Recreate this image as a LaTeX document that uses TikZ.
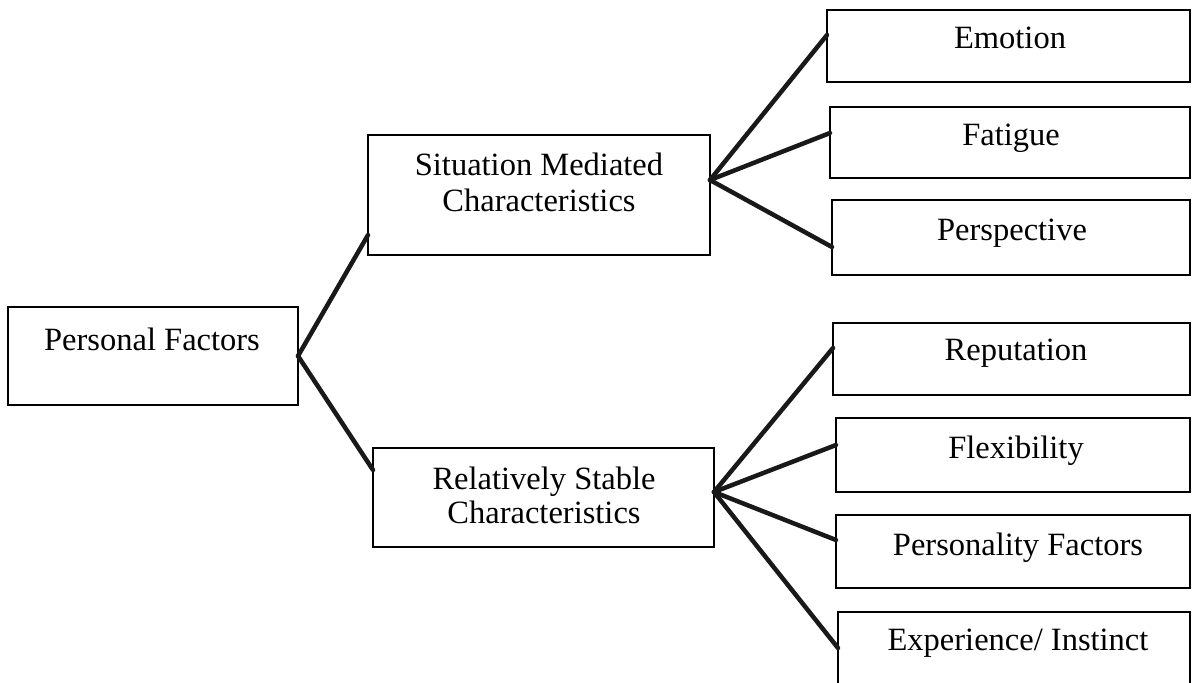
\documentclass[tikz,border=0pt]{standalone}
\usepackage{fontspec}
\setmainfont{Liberation Serif}
\usetikzlibrary{calc}
\begin{document}
\begin{tikzpicture}[x=1pt,y=-1pt,
  box/.style={draw=black, line width=1.8pt, inner sep=0pt, outer sep=0pt},
  lbl/.style={inner sep=0pt, anchor=base, font=\fontsize{32.5}{37}\selectfont},
  link/.style={draw=black!90, line width=4.5pt, line cap=round}]
\useasboundingbox (0,0) rectangle (1192,683);
\clip (0,0) rectangle (1192,683);

% root
\node[box, minimum width=290, minimum height=98] (pf) at (153,356) {};
\node[lbl] (pft) at (152,350) {Personal Factors};

% second level
\node[box, minimum width=342, minimum height=120] (sm) at (539,195) {};
\node[lbl] (smt1) at (539,175) {Situation Mediated};
\node[lbl] (smt2) at (539,211) {Characteristics};

\node[box, minimum width=341, minimum height=99] (rs) at (543.5,497.5) {};
\node[lbl] (rst1) at (544,489) {Relatively Stable};
\node[lbl] (rst2) at (544,523) {Characteristics};

% leaves
\node[box, minimum width=363, minimum height=72] (emo) at (1008.5,46) {};
\node[lbl] (emot) at (1010,48) {Emotion};
\node[box, minimum width=360, minimum height=71] (fat) at (1010,142.5) {};
\node[lbl] (fatt) at (1011,145) {Fatigue};
\node[box, minimum width=358, minimum height=75] (per) at (1011,237.5) {};
\node[lbl] (pert) at (1012,240) {Perspective};

\node[box, minimum width=357, minimum height=72] (rep) at (1011.5,359) {};
\node[lbl] (rept) at (1016,360) {Reputation};
\node[box, minimum width=354, minimum height=74] (flx) at (1013,455) {};
\node[lbl] (flxt) at (1016,458) {Flexibility};
\node[box, minimum width=354, minimum height=73] (pfs) at (1013,551.5) {};
\node[lbl] (pfst) at (1018,555) {Personality Factors};
\node[box, minimum width=352, minimum height=88] (exp) at (1014,656) {};
\node[lbl] (expt) at (1018,650) {Experience/ Instinct};

% connectors
\coordinate (pfa) at (pf.east);
\coordinate (sma) at ($(sm.east)+(0,-15)$);
\coordinate (rsa) at ($(rs.east)+(0,-5.5)$);

\draw[link] (pfa) -- ($(sm.west)+(0,40)$);
\draw[link] (pfa) -- ($(rs.west)+(0,-27.5)$);

\draw[link] (sma) -- ($(emo.west)+(0,-11)$);
\draw[link] (sma) -- ($(fat.west)+(0,-9.5)$);
\draw[link] (sma) -- ($(per.west)+(0,9.5)$);

\draw[link] (rsa) -- ($(rep.west)+(0,-11)$);
\draw[link] (rsa) -- ($(flx.west)+(0,-10)$);
\draw[link] (rsa) -- ($(pfs.west)+(0,-11.5)$);
\draw[link] (rsa) -- ($(exp.west)+(0,-8)$);
\end{tikzpicture}
\end{document}
